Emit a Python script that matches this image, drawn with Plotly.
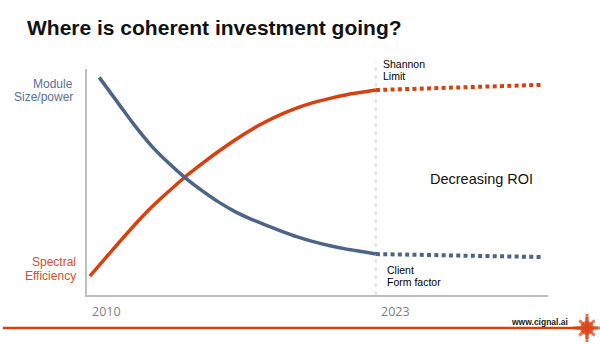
import plotly.graph_objects as go

# ---- data ----
years_orange = [2010.13, 2010.77, 2011.41, 2012.16, 2012.91, 2013.66, 2014.38, 2015.16, 2015.91,
                2016.66, 2017.3, 2017.93, 2018.68, 2019.43, 2020.18, 2020.93, 2021.68, 2022.43, 2023.0]
spectral_eff = [8.4, 15.7, 22.9, 31.2, 38.9, 45.7, 52.0, 58.0, 63.5,
                68.6, 72.6, 76.1, 79.7, 82.7, 85.1, 87.0, 88.6, 89.8, 90.7]
years_blue = [2010.55, 2011.41, 2012.16, 2012.91, 2013.66, 2014.38, 2015.16, 2015.91,
              2016.66, 2017.3, 2017.93, 2018.68, 2019.43, 2020.18, 2020.93, 2021.68, 2022.43, 2023.0]
module_size = [96.3, 84.8, 74.8, 65.9, 58.5, 52.2, 46.3, 41.2,
               36.9, 33.9, 31.4, 28.5, 25.8, 23.6, 21.8, 20.3, 19.1, 18.1]
years_future = [2023.0, 2030.5]
spectral_future = [90.7, 93.0]
module_future = [18.1, 16.8]
tick_years = [2010, 2023]
tick_text = ["2010", "2023"]
limit_year = 2023

ORANGE = "#D9400F"
BLUE = "#4D6488"
LBLUE = "#5B7096"
LORANGE = "#E24A1E"
GRAY = "#BFBFBF"
W, H = 600, 344

fig = go.Figure()
fig.add_trace(go.Scatter(x=years_orange, y=spectral_eff, mode="lines",
                         line=dict(color=ORANGE, width=3.5, shape="spline", smoothing=0.7),
                         cliponaxis=False, hoverinfo="skip"))
fig.add_trace(go.Scatter(x=years_blue, y=module_size, mode="lines",
                         line=dict(color=BLUE, width=3.5, shape="spline", smoothing=0.7),
                         cliponaxis=False, hoverinfo="skip"))
fig.add_trace(go.Scatter(x=years_future, y=spectral_future, mode="lines",
                         line=dict(color=ORANGE, width=4, dash="4px,3.3px"),
                         cliponaxis=False, hoverinfo="skip"))
fig.add_trace(go.Scatter(x=years_future, y=module_future, mode="lines",
                         line=dict(color=BLUE, width=4, dash="4px,3.3px"),
                         cliponaxis=False, hoverinfo="skip"))

# logo (decoration) on a full-page pixel axis
fig.add_trace(go.Scatter(x=[587, 587, 587], y=[328, 328, 328], xaxis="x2", yaxis="y2", mode="markers",
                         marker=dict(symbol=["asterisk-open", "cross-thin-open", "circle"], size=[18, 20, 11],
                                     color=ORANGE, line=dict(color=ORANGE, width=3)),
                         cliponaxis=False, hoverinfo="skip"))

px = lambda v: v / W
py = lambda v: (H - v) / H

fig.update_layout(
    width=W, height=H, margin=dict(l=0, r=0, t=0, b=0),
    paper_bgcolor="white", plot_bgcolor="rgba(0,0,0,0)", showlegend=False,
    xaxis=dict(domain=[px(87), px(548)], range=[2010, 2030.74], showgrid=False, zeroline=False,
               showticklabels=False, ticks="", showline=True, linecolor=GRAY, linewidth=1.5),
    yaxis=dict(domain=[py(295), py(69)], range=[0, 100], showgrid=False, zeroline=False,
               showticklabels=False, ticks="", showline=True, linecolor=GRAY, linewidth=1.5),
    xaxis2=dict(domain=[0, 1], range=[0, W], visible=False, anchor="y2"),
    yaxis2=dict(domain=[0, 1], range=[H, 0], visible=False, anchor="x2"),
    font=dict(family="Liberation Sans, Arial, sans-serif"),
)

# vertical dashed limit line
fig.add_shape(type="line", xref="x", yref="paper", x0=limit_year, x1=limit_year,
              y0=py(295), y1=py(62), line=dict(color="#C8C8C8", width=1, dash="4px,4px"), layer="below")
# bottom brand line
fig.add_shape(type="line", xref="paper", yref="paper", x0=px(3), x1=px(580), y0=py(328), y1=py(328),
              line=dict(color=ORANGE, width=2.5))

ann = []
def A(text, x, y, xanchor="left", size=11, color="black", xref="paper", yref="paper", **kw):
    ann.append(dict(text=text, x=x, y=y, xref=xref, yref=yref, xanchor=xanchor, yanchor="middle",
                    showarrow=False, font=dict(size=size, color=color, **kw.pop("font", {})), **kw))

A("<b>Where is coherent investment going?</b>", px(25), py(27), size=21, color="#111111")
A("Module", px(75), py(84), xanchor="right", size=12, color=LBLUE)
A("Size/power", px(75), py(97), xanchor="right", size=12, color=LBLUE)
A("Spectral", px(78), py(262), xanchor="right", size=12, color=LORANGE)
A("Efficiency", px(78), py(276), xanchor="right", size=12, color=LORANGE)
A("Shannon", px(381), py(64), size=10.5)
A("Limit", px(381), py(76), size=10.5)
A("Client", px(385), py(270), size=10.5)
A("Form factor", px(385), py(282), size=10.5)
A("Decreasing ROI", px(481), py(179), xanchor="center", size=14.5, color="#111111")
A("<b>www.cignal.ai</b>", px(570), py(322), xanchor="right", size=8.5, color="#222222")
for yr, t in zip(tick_years, tick_text):
    A(t, yr, py(311), xref="x", size=12.5, color="#808080", xshift=3,
      font=dict(family="Open Sans, sans-serif"))

fig.update_layout(annotations=ann)
fig.write_html("out.html")
